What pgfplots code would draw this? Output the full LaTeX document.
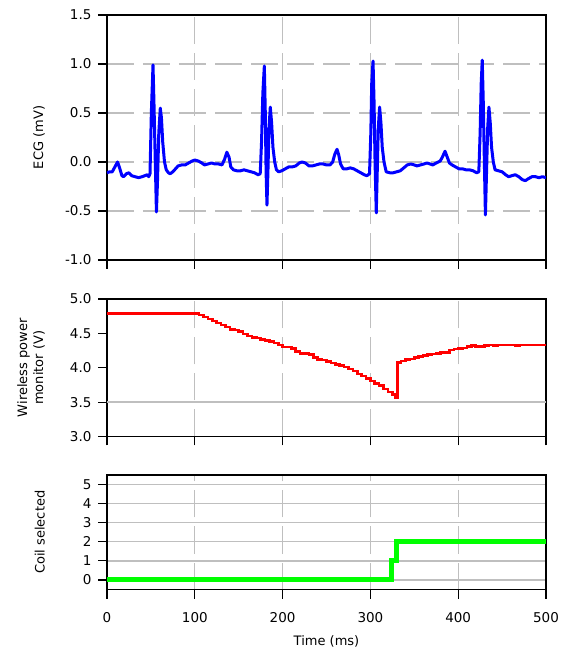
\documentclass[border=0pt]{standalone}
\usepackage{fontspec}
\setmainfont{DejaVu Sans}
\usepackage{pgfplots}
\pgfplotsset{compat=1.18}

\newcommand\lblfont{\fontsize{13}{16}\selectfont}
\pgfplotsset{
  panel/.style={
    width=439pt, scale only axis,
    anchor=south west,
    xmin=0, xmax=500,
    xtick={0,100,200,300,400,500},
    tick align=outside, xtick pos=bottom, ytick pos=left,
    major tick length=9pt,
    tick style={black, line width=1.1pt},
    axis line style={line width=1.2pt},
    tick label style={font=\fontsize{13.5}{15}\selectfont},
    yticklabel style={xshift=-3pt},
    xticklabel style={yshift=-10pt},
    /pgf/number format/assume math mode=true,
    xmajorgrids,
    x grid style={black!25, line width=1.3pt, dash pattern=on 27pt off 9pt},
  },
  onedec/.style={yticklabel style={/pgf/number format/.cd, fixed, fixed zerofill, precision=1}},
}

\begin{document}
\begin{tikzpicture}
\useasboundingbox (0,0) rectangle (566pt,654pt);

% ECG
\begin{axis}[panel, onedec,
    at={(107pt,394pt)}, height=245pt,
    ymin=-1, ymax=1.5, ytick={-1,-0.5,0,0.5,1,1.5},
    xticklabels={},
    ymajorgrids,
    y grid style={black!25, line width=1.3pt, dash pattern=on 27pt off 9pt},
    every axis y label/.style={at={(axis description cs:-0.155,0.5)}, rotate=90, anchor=center, font=\lblfont},
    ylabel={ECG (mV)}]
  \addplot[blue, line width=3pt, line join=round] coordinates {
    (0,-0.11)(3,-0.10)(6,-0.10)(9,-0.05)(12,0.00)(14,-0.05)(17,-0.14)(19,-0.15)
    (22,-0.12)(25,-0.11)(28,-0.14)(32,-0.15)(36,-0.16)(40,-0.15)(43,-0.14)(46,-0.13)
    (47.5,-0.15)(49,-0.12)(50.5,0.5)(52.4,0.99)(53.5,0.6)(55,0.0)(56.3,-0.51)(57.5,-0.2)
    (59,0.3)(60.7,0.55)(62,0.45)(63.5,0.2)(65.5,0.0)(67.5,-0.08)(70,-0.11)(72,-0.12)
    (75,-0.10)(78,-0.07)(81,-0.04)(85,-0.03)(89,-0.03)(93,-0.01)(97,0.01)(100,0.02)
    (104,0.01)(108,-0.01)(111,-0.03)(115,-0.02)(119,-0.01)(123,-0.02)(127,-0.02)(131,-0.03)
    (134,0.03)(136.5,0.10)(139,0.05)(141,-0.05)(144,-0.08)(148,-0.09)(152,-0.09)(156,-0.08)
    (160,-0.09)(164,-0.10)(168,-0.11)(172,-0.13)(174.5,-0.12)(176,0.2)(177.5,0.7)(179.2,0.98)
    (180.3,0.5)(181.2,-0.1)(182.2,-0.44)(183.3,-0.1)(184.5,0.35)(186,0.56)(187.5,0.4)(189,0.15)
    (191,0.0)(193,-0.08)(195.5,-0.10)(199,-0.09)(203,-0.07)(207,-0.05)(211,-0.05)(215,-0.04)
    (219,-0.01)(222,0.00)(226,-0.01)(230,-0.04)(234,-0.04)(238,-0.03)(242,-0.02)(246,-0.02)
    (250,-0.03)(254,-0.03)(257,0.00)(259.5,0.08)(262,0.13)(264,0.07)(266,-0.02)(269,-0.07)
    (273,-0.07)(277,-0.06)(281,-0.07)(285,-0.09)(289,-0.11)(293,-0.13)(296,-0.14)(299,-0.12)
    (300.5,0.3)(301.5,0.8)(303,1.03)(304.2,0.6)(305.3,0.0)(306.7,-0.52)(307.8,-0.1)(309,0.35)
    (310.5,0.56)(312,0.4)(313.5,0.15)(315.5,0.0)(318,-0.10)(322,-0.11)(326,-0.11)(330,-0.10)
    (334,-0.09)(338,-0.06)(342,-0.03)(346,-0.02)(350,-0.03)(353,-0.04)(357,-0.03)(361,-0.02)
    (364.5,-0.01)(368,-0.02)(371,-0.03)(375,-0.01)(379.5,0.01)(382,0.05)(385,0.11)(387.5,0.05)
    (390,-0.01)(393,-0.03)(397,-0.05)(401,-0.07)(405,-0.07)(409,-0.08)(413,-0.08)(417,-0.09)
    (421,-0.11)(423.5,-0.10)(425,0.3)(426.2,0.8)(427.4,1.04)(428.6,0.6)(429.8,0.0)(431,-0.54)
    (432.3,-0.1)(433.6,0.35)(435,0.56)(436.5,0.4)(438,0.15)(440,0.0)(442,-0.08)(446,-0.09)
    (450,-0.10)(454,-0.13)(457.4,-0.15)(461,-0.14)(465,-0.13)(469,-0.15)(473,-0.18)(476.5,-0.19)
    (480,-0.17)(484,-0.15)(488,-0.15)(492,-0.16)(496,-0.15)(500,-0.16)
  };
\end{axis}

% wireless power monitor
\begin{axis}[panel, onedec,
    at={(107pt,217.5pt)}, height=137.5pt,
    ymin=3, ymax=5, ytick={3,3.5,4,4.5,5},
    xticklabels={},
    extra y ticks={3.5}, extra y tick labels={},
    extra y tick style={grid=major},
    y grid style={black!25, line width=1.3pt},
    every axis y label/.style={at={(axis description cs:-0.173,0.5)}, rotate=90, anchor=center, align=center, font=\lblfont},
    ylabel={Wireless power\\monitor (V)}]
  \addplot[red, line width=2.6pt, const plot] coordinates {
    (0,4.79)(100,4.79)(105,4.77)(110,4.74)(115,4.71)(120,4.68)(125,4.65)(130,4.62)
    (135,4.59)(140,4.56)(145,4.55)(150,4.53)(155,4.49)(160,4.46)(165,4.44)(170,4.43)
    (175,4.41)(180,4.40)(185,4.38)(190,4.36)(195,4.33)(200,4.30)(205,4.30)(210,4.28)
    (215,4.24)(220,4.21)(225,4.21)(230,4.19)(235,4.15)(240,4.12)(245,4.11)(250,4.09)
    (255,4.07)(260,4.05)(265,4.03)(270,4.01)(275,3.98)(280,3.95)(285,3.91)(290,3.88)
    (295,3.84)(300,3.81)(305,3.77)(310,3.74)(315,3.69)(320,3.65)(325,3.61)(328,3.56)
    (331,4.08)(335,4.10)(340,4.12)(345,4.13)(350,4.15)(355,4.16)(360,4.18)(365,4.19)
    (370,4.20)(375,4.21)(380,4.22)(385,4.22)(390,4.26)(395,4.27)(400,4.28)(405,4.29)
    (410,4.31)(415,4.32)(420,4.31)(425,4.31)(430,4.32)(435,4.33)(440,4.32)(445,4.33)
    (450,4.33)(460,4.33)(465,4.32)(470,4.33)(480,4.33)(490,4.33)(500,4.34)
  };
\end{axis}

% coil selected
\begin{axis}[panel,
    at={(107pt,64.5pt)}, height=114.5pt,
    ymin=-0.5, ymax=5.5, ytick={0,1,2,3,4,5},
    ymajorgrids,
    y grid style={black!25, line width=1.3pt},
    every axis y label/.style={at={(axis description cs:-0.153,0.5)}, rotate=90, anchor=center, font=\lblfont},
    ylabel={Coil selected},
    every axis x label/.style={at={(axis description cs:0.5,0)}, yshift=-52pt, anchor=center, font=\lblfont},
    xlabel={Time (ms)}]
  \addplot[green, line width=5pt, const plot] coordinates {
    (0,0)(324.5,1)(330,2)(500,2)
  };
\end{axis}
\end{tikzpicture}
\end{document}
